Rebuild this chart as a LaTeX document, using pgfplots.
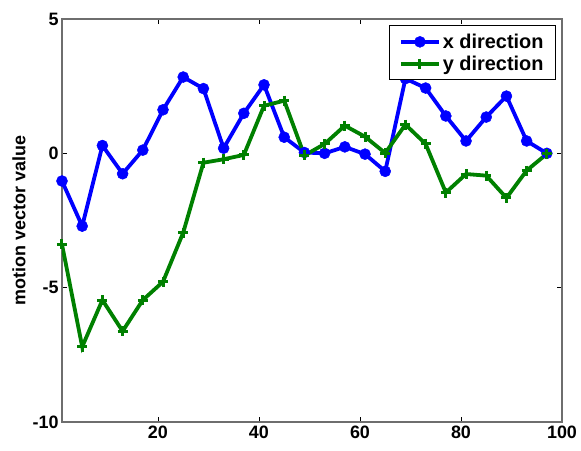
\documentclass[border=0pt]{standalone}
\usepackage{fontspec}
\setmainfont{Liberation Sans}
\usepackage{pgfplots}
\pgfplotsset{compat=1.18}
\usetikzlibrary{calc}
\definecolor{mblue}{RGB}{0,0,255}
\definecolor{mgreen}{RGB}{0,128,0}
\definecolor{boxgray}{RGB}{110,110,110}
\begin{document}
\begin{tikzpicture}
\begin{axis}[
  scale only axis, width=500bp, height=403bp,
  xmin=1, xmax=100, ymin=-10, ymax=5,
  xtick={20,40,60,80,100}, ytick={-10,-5,0,5},
  tick align=inside, major tick length=5bp,
  axis line style={draw=boxgray, line width=1.2bp},
  tick style={black, line width=0.6bp},
  ticklabel style={font=\fontsize{18}{20}\selectfont\bfseries},
  /pgf/number format/assume math mode=true,
  ylabel={motion vector value},
  ylabel style={font=\fontsize{18}{20}\selectfont\bfseries, at={(axis description cs:-0.086,0.5)}, anchor=center},
  legend style={at={(1,1)}, anchor=north east, xshift=-6bp, yshift=-6.5bp,
    draw=black, line width=0.8bp, font=\fontsize{20}{22}\selectfont\bfseries,
    inner xsep=10bp, inner ysep=6bp, row sep=2bp},
  legend cell align=left,
  legend image code/.code={\draw[mark repeat=2,mark phase=2] plot coordinates {(0bp,0bp) (19bp,0bp) (38bp,0bp)};},
]
\addplot[mblue, line width=3.8bp, mark=*, mark size=5.5bp, mark options={solid, fill=mblue, line width=0.5bp}] coordinates {
(1,-1.03) (5,-2.71) (9,0.29) (13,-0.76) (17,0.12) (21,1.62) (25,2.84) (29,2.41)
(33,0.19) (37,1.49) (41,2.55) (45,0.60) (49,0.03) (53,0.0) (57,0.24) (61,-0.03)
(65,-0.67) (69,2.78) (73,2.43) (77,1.39) (81,0.46) (85,1.35) (89,2.13) (93,0.46) (97,0.0)};
\addlegendentry{x direction}
\addplot[mgreen, line width=3.8bp, mark=+, mark size=5bp, mark options={solid, line width=3bp}] coordinates {
(1,-3.39) (5,-7.2) (9,-5.46) (13,-6.62) (17,-5.46) (21,-4.78) (25,-2.95) (29,-0.35)
(33,-0.22) (37,-0.06) (41,1.77) (45,1.96) (49,-0.08) (53,0.35) (57,1.03) (61,0.62)
(65,0.01) (69,1.07) (73,0.35) (77,-1.46) (81,-0.77) (85,-0.83) (89,-1.66) (93,-0.64) (97,-0.02)};
\addlegendentry{y direction}
\coordinate (bl) at (rel axis cs:0,0);
\coordinate (tr) at (rel axis cs:1,1);
\end{axis}
\pgfresetboundingbox
\path ($(bl)+(-62bp,-29bp)$) rectangle ($(tr)+(19bp,19bp)$);
\end{tikzpicture}
\end{document}
